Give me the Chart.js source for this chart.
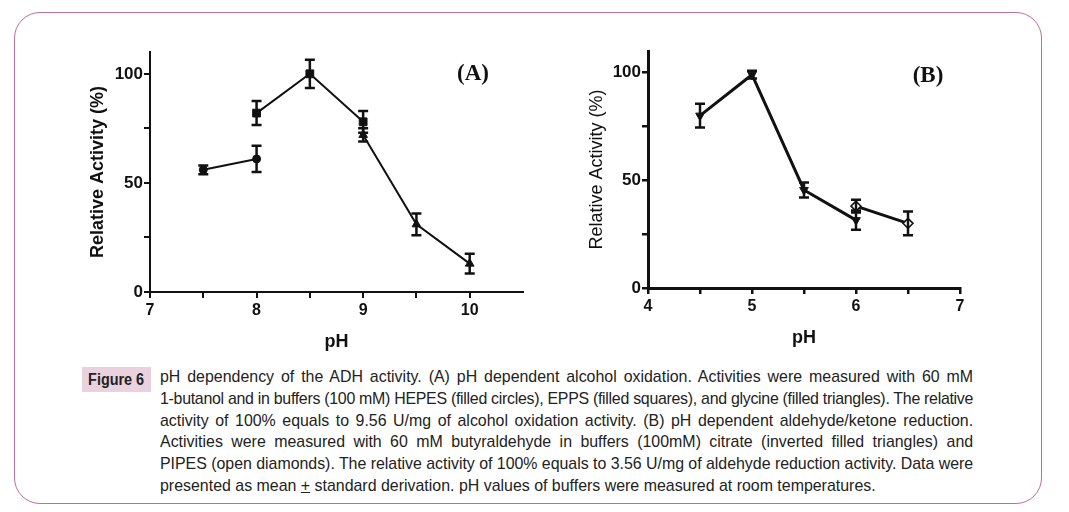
<!DOCTYPE html>
<html>
<head>
<meta charset="utf-8">
<script src="https://cdn.jsdelivr.net/npm/chart.js@4.4.1/dist/chart.umd.min.js"></script>
<style>
  html, body { margin: 0; padding: 0; background: #fff; }
  body { width: 1069px; height: 512px; position: relative; overflow: hidden; }
  #frame {
    position: absolute; left: 14px; top: 12px; width: 1026px; height: 490px;
    border: 1.5px solid #bb6f9f; border-radius: 26px;
  }
  .wrap { position: absolute; }
  #wrapA { left: 70px; top: 30px; width: 480px; height: 330px; }
  #wrapB { left: 570px; top: 30px; width: 420px; height: 330px; }
  .tag {
    position: absolute; font-family: "Liberation Serif", "Times New Roman", serif;
    font-weight: bold; font-size: 23px; color: #111; transform: translate(-50%, -50%);
  }
  #figlabel {
    position: absolute; left: 82px; top: 367px; width: 69px; height: 25px;
    background: #e9d2de; color: #222; line-height: 25px; text-align: center;
    font-family: "Liberation Sans", Arial, sans-serif; font-weight: bold; font-size: 16px;
  }
  #figlabel span { display: inline-block; transform: scaleX(0.9); }
  #caption {
    position: absolute; left: 160px; top: 366px; width: 847px;
    transform: scaleX(0.96); transform-origin: 0 0;
    font-family: "Liberation Sans", Arial, sans-serif;
    font-size: 16.6px; color: #222; line-height: 21.8px;
  }
  #caption div { white-space: nowrap; }
</style>
</head>
<body>
<div id="frame"></div>
<div class="wrap" id="wrapA"><canvas id="chartA"></canvas></div>
<div class="wrap" id="wrapB"><canvas id="chartB"></canvas></div>
<div class="tag" style="left:473px; top:73px;">(A)</div>
<div class="tag" style="left:928px; top:75px;">(B)</div>
<div id="figlabel"><span>Figure 6</span></div>
<div id="caption">
  <div class="j"><span>pH dependency of the ADH activity. (A) pH dependent alcohol oxidation. Activities were measured with 60 mM</span></div>
  <div class="j"><span>1-butanol and in buffers (100 mM) HEPES (filled circles), EPPS (filled squares), and glycine (filled triangles). The relative</span></div>
  <div class="j"><span>activity of 100% equals to 9.56 U/mg of alcohol oxidation activity. (B) pH dependent aldehyde/ketone reduction.</span></div>
  <div class="j"><span>Activities were measured with 60 mM butyraldehyde in buffers (100mM) citrate (inverted filled triangles) and</span></div>
  <div class="j"><span>PIPES (open diamonds). The relative activity of 100% equals to 3.56 U/mg of aldehyde reduction activity. Data were</span></div>
  <div><span>presented as mean <u>+</u> standard derivation. pH values of buffers were measured at room temperatures.</span></div>
</div>

<script>
// panel A: alcohol oxidation
const hepesPH = [7.5, 8.0];
const hepesAct = [56, 61];
const hepesErr = [2, 6];

const eppsPH = [8.0, 8.5, 9.0];
const eppsAct = [82, 100, 78];
const eppsErr = [5.5, 6.5, 5];

const glyPH = [9.0, 9.5, 10.0];
const glyAct = [72, 31, 13];
const glyErr = [3, 5, 4.5];

// panel B: aldehyde reduction
const citPH = [4.5, 5.0, 5.5, 6.0];
const citAct = [80, 99, 45.5, 31.5];
const citErr = [5.5, 1.8, 3.5, 4.5];

const pipPH = [6.0, 6.5];
const pipAct = [38, 30];
const pipErr = [3, 5.5];

const yTickLabels = [0, 50, 100];

const INK = '#111';
const FONT = "'Liberation Sans', Arial, sans-serif";

// justify caption lines: stretch word gaps, or tighten letters if a line is too long
const CAP_SCALE = 0.96, CAP_W = 847;
document.querySelectorAll('#caption div.j').forEach((line) => {
  const span = line.firstElementChild;
  const text = span.textContent;
  const gaps = text.split(' ').length - 1;
  const extra = CAP_W - span.getBoundingClientRect().width / CAP_SCALE;
  if (extra >= 0) {
    span.style.wordSpacing = (extra / gaps) + 'px';
  } else {
    span.style.letterSpacing = (extra / text.length) + 'px';
  }
});

function pts(xs, ys) {
  return xs.map((x, i) => ({ x: x, y: ys[i] }));
}

// draws the +/- error bars through the chart scales
const errorBars = {
  id: 'errorBars',
  afterDatasetsDraw(chart) {
    const { ctx, scales: { x, y } } = chart;
    ctx.save();
    chart.data.datasets.forEach((ds) => {
      if (!ds.errors) return;
      ctx.strokeStyle = INK;
      ctx.lineWidth = ds.errWidth || 2.5;
      ds.data.forEach((p, i) => {
        const e = ds.errors[i];
        const px = x.getPixelForValue(p.x);
        const top = y.getPixelForValue(p.y + e);
        const bot = y.getPixelForValue(p.y - e);
        ctx.beginPath();
        ctx.moveTo(px, top); ctx.lineTo(px, bot);
        ctx.moveTo(px - 5, top); ctx.lineTo(px + 5, top);
        ctx.moveTo(px - 5, bot); ctx.lineTo(px + 5, bot);
        ctx.stroke();
      });
    });
    ctx.restore();
  }
};

function series(xs, ys, errs, style, extra) {
  return Object.assign({
    data: pts(xs, ys),
    errors: errs,
    showLine: true,
    borderColor: INK,
    backgroundColor: INK,
    pointBorderColor: INK,
    pointBackgroundColor: INK,
    pointStyle: style,
    pointRadius: 4,
    pointBorderWidth: 1,
    borderWidth: 2,
  }, extra || {});
}

function panel(id, datasets, o) {
  return new Chart(document.getElementById(id), {
    type: 'scatter',
    data: { datasets: datasets },
    plugins: [errorBars],
    options: {
      responsive: true,
      maintainAspectRatio: false,
      animation: false,
      layout: { padding: { top: o.padTop, right: o.padRight, left: 0, bottom: 0 } },
      plugins: { legend: { display: false }, tooltip: { enabled: false } },
      scales: {
        x: {
          type: 'linear', min: o.xMin, max: o.xMax,
          afterFit: (s) => { s.height = o.xHeight; },
          afterBuildTicks: (s) => { s.ticks = o.xTicks.map((v) => ({ value: v })); },
          border: { display: true, color: INK, width: o.axisWidth },
          grid: { display: true, drawOnChartArea: false, drawTicks: true, tickLength: 6, color: INK, lineWidth: o.tickWidth },
          ticks: {
            padding: 3, color: INK, font: { family: FONT, size: 16, weight: 'bold' },
            callback: (v) => (Number.isInteger(v) ? String(v) : ''),
          },
          title: {
            display: true, text: 'pH', color: INK, padding: { top: 0, bottom: o.xTitlePad },
            font: { family: FONT, size: 18, weight: 'bold' },
          },
        },
        y: {
          type: 'linear', min: 0, max: 110,
          afterFit: (s) => { s.width = o.yWidth; },
          afterBuildTicks: (s) => { s.ticks = [0, 25, 50, 75, 100].map((v) => ({ value: v })); },
          border: { display: true, color: INK, width: o.axisWidth },
          grid: { display: true, drawOnChartArea: false, drawTicks: true, tickLength: 6, color: INK, lineWidth: o.tickWidth },
          ticks: {
            padding: 1, color: INK, font: { family: FONT, size: 17, weight: 'bold' },
            callback: (v) => (yTickLabels.includes(v) ? String(v) : ''),
          },
          title: {
            display: true, text: 'Relative Activity (%)', color: INK, padding: { top: o.yTitlePad, bottom: 0 },
            font: { family: FONT, size: 18, weight: o.yTitleWeight },
          },
        },
      },
    },
  });
}

panel('chartA', [
  series(hepesPH, hepesAct, hepesErr, 'circle', { pointRadius: 4 }),
  series(eppsPH, eppsAct, eppsErr, 'rect', { pointRadius: 5.5 }),
  series(glyPH, glyAct, glyErr, 'triangle', { pointRadius: 5 }),
], {
  xMin: 7, xMax: 10.5, xTicks: [7, 7.5, 8, 8.5, 9, 9.5, 10],
  padTop: 22, padRight: 27, xHeight: 68, yWidth: 80,
  xTitlePad: 7.5, yTitlePad: 17.7, yTitleWeight: 'bold', axisWidth: 2, tickWidth: 2,
});

panel('chartB', [
  series(citPH, citAct, citErr, 'triangle', { pointRadius: 5, pointRotation: 180, borderWidth: 3, errWidth: 2.5 }),
  series(pipPH, pipAct, pipErr, 'rectRot', {
    pointRadius: 5, pointBackgroundColor: '#fff', pointBorderWidth: 1.5, borderWidth: 3, errWidth: 2.5,
  }),
], {
  xMin: 4, xMax: 7, xTicks: [4, 4.5, 5, 5.5, 6, 6.5, 7],
  padTop: 21, padRight: 30, xHeight: 72, yWidth: 78,
  xTitlePad: 11, yTitlePad: 16.7, yTitleWeight: 'normal', axisWidth: 3, tickWidth: 2.5,
});
</script>
</body>
</html>
